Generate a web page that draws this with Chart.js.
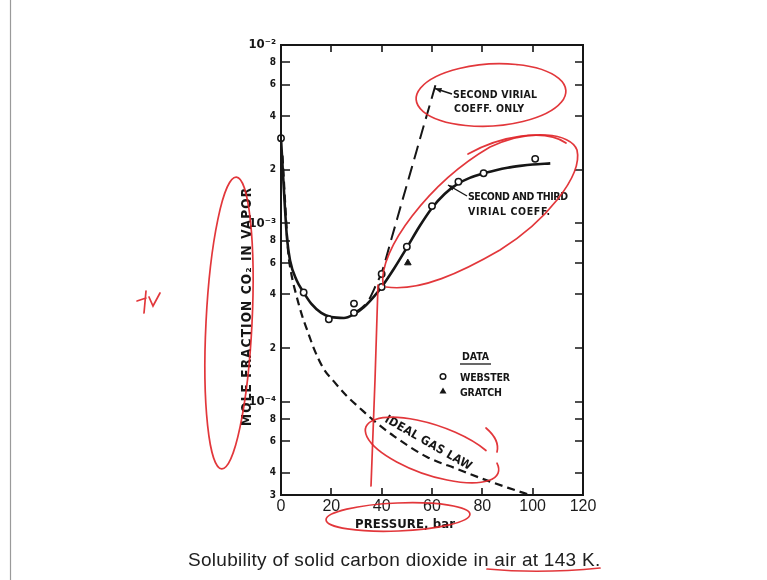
<!DOCTYPE html>
<html><head><meta charset="utf-8">
<script src="https://cdn.jsdelivr.net/npm/chart.js@4/dist/chart.umd.min.js"></script>
<style>html,body{margin:0;padding:0;background:#fff;}canvas{display:block}</style>
</head><body>
<canvas id="c" width="767" height="580"></canvas>
<script>
// ---- data ----
const xTicks = [0, 20, 40, 60, 80, 100, 120];
const yTicks = [3e-5, 4e-5, 6e-5, 8e-5, 1e-4, 2e-4, 4e-4, 6e-4, 8e-4, 1e-3, 2e-3, 4e-3, 6e-3, 8e-3, 1e-2];

const websterP = [0, 9, 19, 29, 29, 40, 40, 50, 60, 70.5, 80.5, 101];
const websterY = [3.0e-3, 4.1e-4, 2.9e-4, 3.55e-4, 3.15e-4, 5.2e-4, 4.4e-4, 7.4e-4, 1.25e-3, 1.71e-3, 1.91e-3, 2.3e-3];

const gratchP = [50.4];
const gratchY = [6.0e-4];

const virial23P = [0, 0.7, 1.6, 2.4, 3.6, 6.2, 9, 12, 16, 20, 25, 29, 33, 37, 40, 45, 50, 55, 60, 65, 70, 75, 80, 85, 90, 95, 100, 107];
const virial23Y = [3.0e-3, 2.0e-3, 1.2e-3, 8.2e-4, 6.2e-4, 4.8e-4, 4.1e-4, 3.55e-4, 3.15e-4, 2.98e-4, 2.95e-4, 3.1e-4, 3.4e-4, 3.9e-4, 4.4e-4, 5.6e-4, 7.3e-4, 9.6e-4, 1.22e-3, 1.46e-3, 1.66e-3, 1.8e-3, 1.9e-3, 1.98e-3, 2.05e-3, 2.1e-3, 2.14e-3, 2.17e-3];

const virial2P = [29, 32, 35, 38, 40, 44, 48, 52, 56, 60, 62];
const virial2Y = [3.15e-4, 3.35e-4, 3.75e-4, 4.6e-4, 5.3e-4, 8.3e-4, 1.31e-3, 2.06e-3, 3.25e-3, 5.1e-3, 6.4e-3];

const idealP = [0.6, 1.4, 2.2, 2.9, 4.0, 6.0, 8.5, 10.5, 13, 16.7, 21, 26.6, 31, 36.6, 45, 58, 70, 80, 90, 99];
const idealY = [2.4e-3, 1.5e-3, 9.5e-4, 6.8e-4, 5.3e-4, 4.0e-4, 3.0e-4, 2.5e-4, 2.0e-4, 1.55e-4, 1.3e-4, 1.06e-4, 9.3e-5, 7.9e-5, 6.4e-5, 4.9e-5, 4.2e-5, 3.7e-5, 3.3e-5, 3.0e-5];

// ---- helpers ----
const pts = (xs, ys) => xs.map((x, i) => ({x: x, y: ys[i]}));
const SUP = {'0':'⁰','1':'¹','2':'²','3':'³','4':'⁴','5':'⁵','6':'⁶','7':'⁷','8':'⁸','9':'⁹'};
const expOf = v => Math.floor(Math.log10(v) + 1e-9);
const isDecade = v => Math.abs(v / Math.pow(10, expOf(v)) - 1) < 1e-6;
const INK = '#161616';
const RED = 'rgba(224,38,42,0.92)';
const LBL = '"DejaVu Sans Condensed", "DejaVu Sans", sans-serif';

function fitText(ctx, text, x, y, w) {
  ctx.save();
  ctx.letterSpacing = '0px';
  const m = ctx.measureText(text).width;
  const ls = (w - m) / Math.max(1, text.length - 1);
  ctx.letterSpacing = ls.toFixed(2) + 'px';
  ctx.fillText(text, x, y);
  ctx.restore();
}
function arrow(ctx, x1, y1, x2, y2) {
  ctx.beginPath(); ctx.moveTo(x1, y1); ctx.lineTo(x2, y2); ctx.stroke();
  const a = Math.atan2(y2 - y1, x2 - x1), L = 7, W = 0.38;
  ctx.beginPath();
  ctx.moveTo(x2, y2);
  ctx.lineTo(x2 - L * Math.cos(a - W), y2 - L * Math.sin(a - W));
  ctx.lineTo(x2 - L * Math.cos(a + W), y2 - L * Math.sin(a + W));
  ctx.closePath(); ctx.fill();
}

const framePlugin = {
  id: 'frame',
  afterDatasetsDraw(chart) {
    const ctx = chart.ctx, a = chart.chartArea, xs = chart.scales.x, ys = chart.scales.y;
    ctx.save();
    ctx.strokeStyle = INK; ctx.lineWidth = 2; ctx.lineCap = 'square';
    ctx.strokeRect(a.left, a.top, a.right - a.left, a.bottom - a.top);
    ctx.lineWidth = 1.6; ctx.lineCap = 'butt';
    ctx.beginPath();
    xTicks.slice(1, -1).forEach(v => {
      const px = Math.round(xs.getPixelForValue(v));
      ctx.moveTo(px, a.bottom); ctx.lineTo(px, a.bottom - 7);
      ctx.moveTo(px, a.top); ctx.lineTo(px, a.top + 7);
    });
    yTicks.slice(1, -1).forEach(v => {
      const py = Math.round(ys.getPixelForValue(v));
      ctx.moveTo(a.left, py); ctx.lineTo(a.left + 9, py);
      ctx.moveTo(a.right, py); ctx.lineTo(a.right - 8, py);
    });
    ctx.stroke();
    ctx.restore();
  },
  afterDraw(chart) {
    const ctx = chart.ctx;
    ctx.save();
    // page border of the scan
    ctx.strokeStyle = '#9a9a9a'; ctx.lineWidth = 1.2;
    ctx.beginPath(); ctx.moveTo(10.5, 0); ctx.lineTo(10.5, 580); ctx.stroke();

    ctx.fillStyle = INK; ctx.strokeStyle = INK;
    ctx.textBaseline = 'alphabetic'; ctx.textAlign = 'left';
    // y-axis title
    ctx.save();
    ctx.translate(251, 426); ctx.rotate(-Math.PI / 2);
    ctx.font = 'bold 13.5px ' + LBL;
    fitText(ctx, 'MOLE FRACTION CO₂ IN VAPOR', 0, 0, 238);
    ctx.restore();
    // x-axis title
    ctx.font = 'bold 13px ' + LBL;
    fitText(ctx, 'PRESSURE, bar', 355, 528, 100);
    // annotations
    ctx.font = 'bold 10.5px ' + LBL;
    fitText(ctx, 'SECOND VIRIAL', 453, 98, 84);
    fitText(ctx, 'COEFF. ONLY', 454, 112, 70);
    fitText(ctx, 'SECOND AND THIRD', 468, 200, 100);
    fitText(ctx, 'VIRIAL COEFF.', 468, 215, 82);
    fitText(ctx, 'DATA', 462, 360, 27);
    fitText(ctx, 'WEBSTER', 460, 381, 50);
    fitText(ctx, 'GRATCH', 460, 396, 42);
    ctx.lineWidth = 1.3;
    ctx.beginPath(); ctx.moveTo(460, 364); ctx.lineTo(491, 364); ctx.stroke();
    ctx.lineWidth = 1.5;
    ctx.beginPath(); ctx.arc(443, 376.5, 2.8, 0, Math.PI * 2); ctx.stroke();
    ctx.beginPath(); ctx.moveTo(443, 387.5); ctx.lineTo(446.5, 393.5); ctx.lineTo(439.5, 393.5); ctx.closePath(); ctx.fill();
    ctx.lineWidth = 1.4;
    arrow(ctx, 452, 94, 435, 88.5);
    arrow(ctx, 467, 196, 448, 185);
    // rotated ideal gas label
    ctx.save();
    ctx.translate(386, 418); ctx.rotate(0.52);
    ctx.font = 'bold 12px ' + LBL;
    fitText(ctx, 'IDEAL GAS LAW', 0, 4, 98);
    ctx.restore();
    // caption
    ctx.font = '19px "Liberation Sans", Arial, sans-serif';
    ctx.fillStyle = '#202020';
    fitText(ctx, 'Solubility of solid carbon dioxide in air at 143 K.', 188, 566, 412);

    // red hand annotations
    ctx.strokeStyle = RED; ctx.lineWidth = 1.7; ctx.lineCap = 'round';
    ctx.beginPath(); ctx.ellipse(491, 95, 75, 31, -0.06, -1.2, Math.PI * 2 - 0.95); ctx.stroke();
    ctx.beginPath();
    ctx.moveTo(383, 285);
    ctx.bezierCurveTo(378, 250, 430, 182, 490, 147);
    ctx.bezierCurveTo(530, 128, 571, 133, 577, 150);
    ctx.bezierCurveTo(583, 176, 545, 222, 500, 250);
    ctx.bezierCurveTo(462, 272, 420, 292, 386, 287);
    ctx.stroke();
    ctx.beginPath(); ctx.moveTo(468, 154); ctx.bezierCurveTo(500, 136, 545, 128, 566, 143); ctx.stroke();
    ctx.beginPath(); ctx.ellipse(229, 323, 23, 146, 0.05, 0, Math.PI * 2); ctx.stroke();
    ctx.beginPath(); ctx.ellipse(432, 450, 70, 25, 0.33, -0.35, Math.PI * 2 - 0.75); ctx.stroke();
    ctx.beginPath(); ctx.moveTo(486, 428); ctx.quadraticCurveTo(500, 440, 497, 452); ctx.stroke();
    ctx.beginPath(); ctx.ellipse(398, 517, 72, 14, -0.04, 0, Math.PI * 2); ctx.stroke();
    ctx.beginPath(); ctx.moveTo(487, 569); ctx.quadraticCurveTo(540, 574, 600, 568); ctx.stroke();
    ctx.beginPath(); ctx.moveTo(378, 285); ctx.lineTo(375, 380); ctx.lineTo(371, 486); ctx.stroke();
    ctx.beginPath();
    ctx.moveTo(137, 301); ctx.lineTo(146, 298);
    ctx.moveTo(146, 291); ctx.lineTo(144, 313);
    ctx.moveTo(149, 297); ctx.lineTo(153, 306); ctx.lineTo(160, 293);
    ctx.stroke();
    ctx.restore();
  }
};

new Chart(document.getElementById('c'), {
  type: 'scatter',
  data: {
    datasets: [
      { label: 'Webster', data: pts(websterP, websterY), pointStyle: 'circle', pointRadius: 3.2,
        borderColor: INK, backgroundColor: '#fff', borderWidth: 1.5, showLine: false, clip: false },
      { label: 'Gratch', data: pts(gratchP, gratchY), pointStyle: 'triangle', pointRadius: 3.8,
        borderColor: INK, backgroundColor: INK, borderWidth: 1, showLine: false },
      { label: 'Second and third virial coeff.', data: pts(virial23P, virial23Y), showLine: true,
        pointRadius: 0, borderColor: INK, borderWidth: 2.6, cubicInterpolationMode: 'monotone' },
      { label: 'Second virial coeff. only', data: pts(virial2P, virial2Y), showLine: true,
        pointRadius: 0, borderColor: INK, borderWidth: 2, borderDash: [14, 7], cubicInterpolationMode: 'monotone' },
      { label: 'Ideal gas law', data: pts(idealP, idealY), showLine: true,
        pointRadius: 0, borderColor: INK, borderWidth: 2.2, borderDash: [8, 5], cubicInterpolationMode: 'monotone' }
    ]
  },
  options: {
    responsive: false, animation: false, devicePixelRatio: 1,
    layout: { padding: { left: 0, right: 184, top: 45, bottom: 0 } },
    plugins: { legend: { display: false }, tooltip: { enabled: false } },
    scales: {
      x: {
        type: 'linear', min: 0, max: 120,
        afterBuildTicks: s => { s.ticks = xTicks.map(v => ({value: v})); },
        afterFit: s => { s.height = 85; },
        grid: { display: false, drawTicks: false }, border: { display: false },
        ticks: { padding: 2, color: '#1c1c1c', font: { family: '"Liberation Sans", Arial, sans-serif', size: 16 } }
      },
      y: {
        type: 'logarithmic', min: 3e-5, max: 1e-2,
        afterBuildTicks: s => { s.ticks = yTicks.map(v => ({value: v})); },
        afterFit: s => { s.width = 281; },
        grid: { display: false, drawTicks: false }, border: { display: false },
        ticks: {
          autoSkip: false, padding: 5, color: INK,
          font: c => (c.tick && isDecade(c.tick.value))
            ? { family: LBL, size: 13, weight: 'bold' }
            : { family: LBL, size: 10, weight: 'bold' },
          callback: v => {
            const e = expOf(v);
            if (isDecade(v)) return '10⁻' + String(-e).split('').map(d => SUP[d]).join('');
            return String(Math.round(v / Math.pow(10, e)));
          }
        }
      }
    }
  },
  plugins: [framePlugin]
});
</script>
</body></html>
